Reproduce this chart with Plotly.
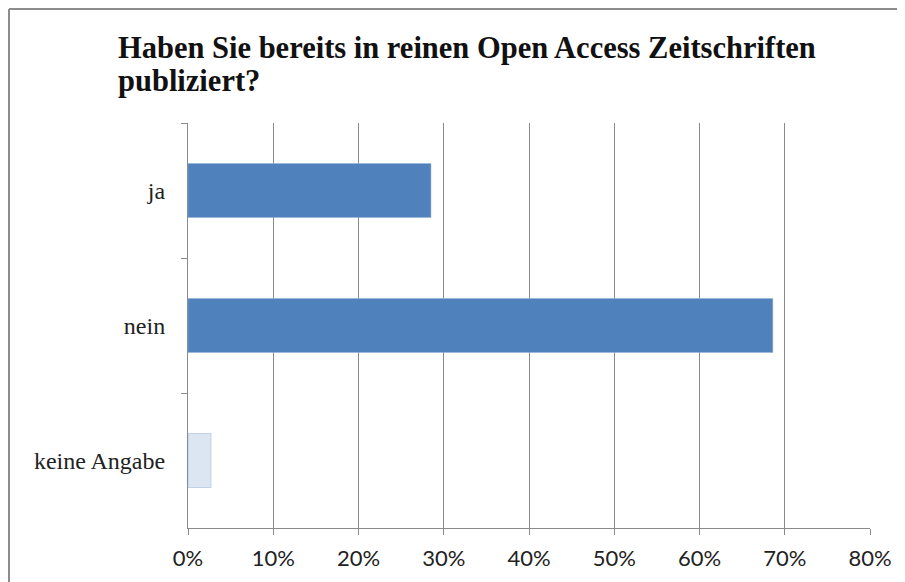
import plotly.graph_objects as go

categories = ["ja", "nein", "keine Angabe"]
values = [0.285, 0.686, 0.027]
bar_colors = ["#4F81BD", "#4F81BD", "#DCE6F2"]
x_ticks = [0, 0.1, 0.2, 0.3, 0.4, 0.5, 0.6, 0.7, 0.8]
x_tick_labels = ["0%", "10%", "20%", "30%", "40%", "50%", "60%", "70%", "80%"]
title_lines = ["Haben Sie bereits in reinen Open Access Zeitschriften", "publiziert?"]

# page body has an 8px margin; figure coordinates = page coordinates - 8
OFF = 8
W, H = 905 - OFF, 582 - OFF
L, R, T, B = 188 - OFF, 905 - 870, 123 - OFF, 582 - 528
pw, ph = W - L - R, H - T - B

def px(x):
    return (x - OFF - L) / pw

def py(y):
    return (H - B - (y - OFF)) / ph

fig = go.Figure()
fig.add_trace(go.Bar(
    x=values, y=categories, orientation="h",
    marker=dict(color=bar_colors, line=dict(color="#95B3D7", width=0.5)),
    width=0.4, hoverinfo="skip",
))

title_font = dict(family="Liberation Serif, serif", size=30.5, color="#111")
annotations = [
    dict(text="<b>" + title_lines[0] + "</b>", xref="paper", yref="paper",
         x=px(116), y=py(48), xanchor="left", yanchor="middle", showarrow=False,
         font=title_font),
    dict(text="<b>" + title_lines[1] + "</b>", xref="paper", yref="paper",
         x=px(116), y=py(81), xanchor="left", yanchor="middle", showarrow=False,
         font=title_font),
]

border = dict(color="#8C8C8C", width=2)
fig.update_layout(
    width=W, height=H,
    margin=dict(l=L, r=R, t=T, b=B),
    paper_bgcolor="white", plot_bgcolor="white",
    showlegend=False,
    xaxis=dict(
        range=[0, 0.8], tickvals=x_ticks, ticktext=x_tick_labels,
        showgrid=True, gridcolor="#8A8A8A", gridwidth=1,
        showline=True, linecolor="#8A8A8A", linewidth=1,
        ticks="outside", ticklen=6, tickcolor="#8A8A8A",
        tickfont=dict(family="Lato, Liberation Sans, sans-serif", size=22, color="#222"),
        ticklabelstandoff=5,
        zeroline=False, fixedrange=True,
    ),
    yaxis=dict(
        autorange="reversed",
        showline=True, linecolor="#8A8A8A", linewidth=1,
        ticks="outside", ticklen=6, tickcolor="#8A8A8A", tickson="boundaries",
        tickfont=dict(family="Liberation Serif, serif", size=24, color="#222"),
        ticklabelstandoff=17,
        showgrid=False, fixedrange=True,
    ),
    annotations=annotations,
    shapes=[
        dict(type="line", xref="paper", yref="paper",
             x0=px(9), x1=px(9), y0=py(620), y1=py(9), line=border),
        dict(type="line", xref="paper", yref="paper",
             x0=px(9), x1=px(940), y0=py(9), y1=py(9), line=border),
    ],
)

fig.write_html("out.html")
